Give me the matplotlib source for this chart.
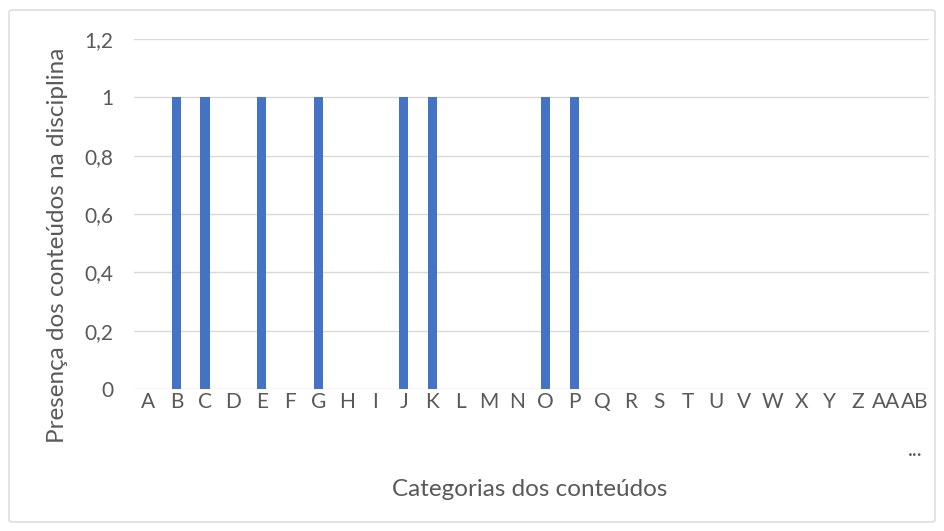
import matplotlib.pyplot as plt
from matplotlib.patches import FancyBboxPatch

categorias = [chr(c) for c in range(ord('A'), ord('Z') + 1)] + ['AA', 'AB\n...']
presenca = [0, 1, 1, 0, 1, 0, 1, 0, 0, 1, 1, 0, 0, 0, 1, 1,
            0, 0, 0, 0, 0, 0, 0, 0, 0, 0, 0, 0]
yticks = [0, 0.2, 0.4, 0.6, 0.8, 1, 1.2]
ylabels = ['0', '0,2', '0,4', '0,6', '0,8', '1', '1,2']

plt.rcParams['font.family'] = ['Lato', 'DejaVu Sans']
cinza = '#595959'

fig = plt.figure(figsize=(9.44, 5.31), dpi=100)
ax = fig.add_axes([134 / 944, 1 - 389 / 531, 795 / 944, 350 / 531])

# moldura clara em volta do gráfico
borda = FancyBboxPatch((9 / 944, 9 / 531), 926 / 944, 512 / 531,
                       boxstyle='round,pad=0,rounding_size=0.004',
                       transform=fig.transFigure, fill=False,
                       edgecolor='#d9d9d9', linewidth=1)
fig.patches.append(borda)

x = list(range(len(categorias)))
ax.bar(x, presenca, width=0.32, color='#4472C4', zorder=3)

ax.set_xlim(-0.5, len(categorias) - 0.5)
ax.set_ylim(0, 1.2)
ax.set_yticks(yticks)
ax.set_yticklabels(ylabels)
ax.set_xticks(x)
ax.set_xticklabels(categorias)
ax.grid(axis='y', color='#d9d9d9', linewidth=1, zorder=0)
for s in ax.spines.values():
    s.set_visible(False)
ax.tick_params(length=0, labelsize=15, colors=cinza)
ax.tick_params(axis='y', pad=15)
ax.tick_params(axis='x', pad=2)
for lbl in ax.get_xticklabels():
    lbl.set_verticalalignment('top')
    lbl.set_linespacing(2.75)

fig.text(530 / 944, 1 - 490 / 531, 'Categorias dos conteúdos', ha='center',
         va='center', fontsize=17.5, color=cinza)
fig.text(58 / 944, 1 - 245 / 531, 'Presença dos conteúdos na disciplina',
         ha='center', va='center', rotation=90, fontsize=17.5, color=cinza)

fig.savefig('out.png', dpi=100)
